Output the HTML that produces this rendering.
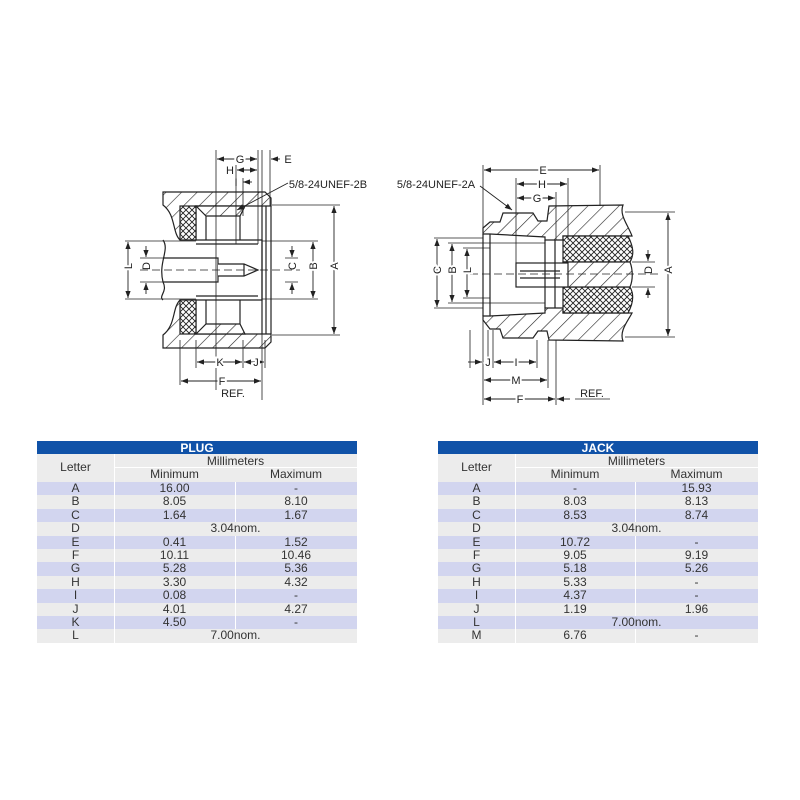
<!DOCTYPE html>
<html><head><meta charset="utf-8"><style>
body{margin:0;background:#fff;width:800px;height:800px;overflow:hidden;position:relative;font-family:"Liberation Sans",Arial,sans-serif}
.c{position:absolute;text-align:center;font-size:12px;color:#333;line-height:13.4px}
</style></head><body>
<svg width="800" height="800" style="position:absolute;left:0;top:0" font-family="Liberation Sans, Arial, sans-serif" font-size="11">
<defs>
<pattern id="h" patternUnits="userSpaceOnUse" width="11" height="11" patternTransform="rotate(45)"><rect width="11" height="11" fill="#fff"/><line x1="0" y1="0" x2="0" y2="11" stroke="#222" stroke-width="1.2"/></pattern>
<pattern id="x" patternUnits="userSpaceOnUse" width="6" height="6"><rect width="6" height="6" fill="#fff"/><path d="M0,0L6,6M6,0L0,6" stroke="#222" stroke-width="0.9"/></pattern>
<marker id="a" markerWidth="8" markerHeight="6" refX="8" refY="3" orient="auto-start-reverse"><path d="M0,0L8,3L0,6z" fill="#222"/></marker>
</defs>
<g stroke="#222" stroke-width="1.2" fill="none">
<path d="M163,192 L265,192 L271,198 L271,206 L196,206 L196,240 L180,240 C172,232 176,215 163,205 Z" fill="url(#h)"/>
<path d="M163,348 L265,348 L271,342 L271,334 L196,334 L196,300 L180,300 C172,308 176,325 163,335 Z" fill="url(#h)"/>
<rect x="180" y="206" width="16" height="34" fill="url(#x)"/>
<rect x="180" y="300" width="16" height="34" fill="url(#x)"/>
<path d="M196,206 L245,206 L240,216 L206,216 L200,210 Z" fill="url(#h)"/>
<path d="M196,334 L245,334 L240,324 L206,324 L200,330 Z" fill="url(#h)"/>
<path d="M206,216 L206,240 M240,216 L240,240 M206,324 L206,300 M240,324 L240,300"/>
<path d="M196,240 L262,240 L262,300 L196,300 M196,244 L258,244 M196,296 L258,296"/>
<path d="M262,206 L262,334 M266,206 L266,334 M271,206 L271,334"/>
<path d="M163,258 L218,258 L218,282 L163,282" fill="#fff"/>
<path d="M163,240 C170,250 158,262 163,282 C168,292 158,296 163,300"/>
<path d="M218,264 L244,264 L258,270 L244,276 L218,276" fill="#fff"/>
<path d="M244,264 L244,276"/>
<line x1="140" y1="270" x2="300" y2="270" stroke-dasharray="8,4" stroke-width="0.8"/>
<g stroke-width="0.8">
<path d="M272,205 L340,205 M272,335 L340,335 M262,241 L318,241 M262,299 L318,299 M285,258 L298,258 M285,282 L298,282"/>
<path d="M125,241 L196,241 M125,299 L196,299 M140,258 L163,258 M140,282 L163,282"/>
<path d="M216,150 L216,390 M258,150 L258,244 M262,150 L262,400 M270,150 L270,206 M236,165 L236,244 M243,178 L243,216 M180,340 L180,385 M196,340 L196,368 M243,340 L243,368 M265,340 L265,368"/>
</g>
<g stroke-width="0.9" marker-start="url(#a)" marker-end="url(#a)">
<line x1="334" y1="206" x2="334" y2="334"/>
<line x1="313" y1="242" x2="313" y2="298"/>
<line x1="128" y1="242" x2="128" y2="298"/>
<line x1="217" y1="159" x2="257" y2="159"/>
<line x1="237" y1="170" x2="257" y2="170"/>
<line x1="197" y1="362" x2="242" y2="362"/>
<line x1="244" y1="362" x2="264" y2="362"/>
<line x1="181" y1="381" x2="261" y2="381"/>
</g>
<g stroke-width="0.9" marker-end="url(#a)">
<line x1="292" y1="246" x2="292" y2="257"/><line x1="292" y1="294" x2="292" y2="283"/>
<line x1="146" y1="246" x2="146" y2="257"/><line x1="146" y1="294" x2="146" y2="283"/>
<line x1="280" y1="159" x2="271" y2="159"/>
<line x1="252" y1="182" x2="243" y2="182"/>
<line x1="288" y1="183" x2="237" y2="210"/>
</g>
<path d="M483,228 L490,222 L500,222 L503,213 L533,213 L538,221 L547,221 L549,206 L623,205 C619,215 628,225 632,236 L563,236 L563,240 L545,240 L545,237 L490,234 L483,234 Z" fill="url(#h)"/>
<path d="M483,320 L490,329 L500,329 L503,338 L533,338 L538,331 L547,331 L549,340 L623,341 C619,331 628,321 632,313 L563,313 L563,308 L545,308 L545,313 L490,316 L483,316 Z" fill="url(#h)"/>
<path d="M563,236 L628,236 C634,248 634,255 630,262 L563,262 Z" fill="url(#x)"/>
<path d="M563,313 L628,313 C634,302 634,294 630,287 L563,287 Z" fill="url(#x)"/>
<path d="M563,262 L630,262 C633,270 633,280 630,287 L563,287 Z" fill="url(#h)"/>
<rect x="516" y="263" width="52" height="24" fill="#fff"/>
<path d="M520,271 L560,271 M520,278 L560,278 M483,234 L483,316 M490,234 L490,316 M545,240 L545,308 M555,240 L555,308"/>
<line x1="470" y1="274" x2="660" y2="274" stroke-dasharray="8,4" stroke-width="0.8"/>
<g stroke-width="0.8">
<path d="M434,238 L483,238 M434,308 L483,308 M448,243 L545,243 M448,303 L545,303 M463,248 L490,248 M463,298 L490,298"/>
<path d="M625,212 L675,212 M625,337 L675,337 M632,262 L655,262 M632,287 L655,287"/>
<path d="M483,165 L483,405 M600,165 L600,206 M516,178 L516,263 M568,178 L568,240 M556,192 L556,240 M556,340 L556,405 M548,340 L548,388 M537,340 L537,368 M493,330 L493,368 M470,330 L470,368 M488,330 L488,368"/>
</g>
<g stroke-width="0.9" marker-start="url(#a)" marker-end="url(#a)">
<line x1="668" y1="213" x2="668" y2="336"/>
<line x1="437" y1="239" x2="437" y2="307"/>
<line x1="452" y1="244" x2="452" y2="302"/>
<line x1="467" y1="249" x2="467" y2="297"/>
<line x1="484" y1="170" x2="599" y2="170"/>
<line x1="517" y1="184" x2="567" y2="184"/>
<line x1="517" y1="198" x2="555" y2="198"/>
<line x1="494" y1="362" x2="536" y2="362"/>
<line x1="484" y1="380" x2="547" y2="380"/>
<line x1="484" y1="399" x2="555" y2="399"/>
</g>
<g stroke-width="0.9" marker-end="url(#a)">
<line x1="648" y1="250" x2="648" y2="261"/><line x1="648" y1="298" x2="648" y2="288"/>
<line x1="468" y1="362" x2="482" y2="362"/>
<line x1="570" y1="399" x2="557" y2="399"/>
<line x1="480" y1="186" x2="512" y2="210"/>
</g>
<line x1="575" y1="399" x2="610" y2="399" stroke-width="0.8"/>
</g>
<g fill="#222" text-anchor="middle">
<text x="240" y="163" stroke="#fff" stroke-width="4" paint-order="stroke">G</text>
<text x="288" y="163">E</text>
<text x="230" y="174">H</text>
<text x="236" y="186">I</text>
<text x="328" y="188">5/8-24UNEF-2B</text>
<text x="220" y="366" stroke="#fff" stroke-width="4" paint-order="stroke">K</text>
<text x="256" y="366" stroke="#fff" stroke-width="4" paint-order="stroke">J</text>
<text x="222" y="385" stroke="#fff" stroke-width="4" paint-order="stroke">F</text>
<text x="233" y="397">REF.</text>
<text x="338" y="274" transform="rotate(-90 334 270)" stroke="#fff" stroke-width="4" paint-order="stroke">A</text>
<text x="317" y="274" transform="rotate(-90 313 270)" stroke="#fff" stroke-width="4" paint-order="stroke">B</text>
<text x="296" y="274" transform="rotate(-90 292 270)">C</text>
<text x="150" y="274" transform="rotate(-90 146 270)">D</text>
<text x="132" y="274" transform="rotate(-90 128 270)" stroke="#fff" stroke-width="4" paint-order="stroke">L</text>
<text x="543" y="174" stroke="#fff" stroke-width="4" paint-order="stroke">E</text>
<text x="542" y="188" stroke="#fff" stroke-width="4" paint-order="stroke">H</text>
<text x="537" y="202" stroke="#fff" stroke-width="4" paint-order="stroke">G</text>
<text x="436" y="188">5/8-24UNEF-2A</text>
<text x="488" y="366" stroke="#fff" stroke-width="4" paint-order="stroke">J</text>
<text x="516" y="366" stroke="#fff" stroke-width="4" paint-order="stroke">I</text>
<text x="516" y="384" stroke="#fff" stroke-width="4" paint-order="stroke">M</text>
<text x="520" y="403" stroke="#fff" stroke-width="4" paint-order="stroke">F</text>
<text x="592" y="397">REF.</text>
<text x="672" y="278" transform="rotate(-90 668 274)" stroke="#fff" stroke-width="4" paint-order="stroke">A</text>
<text x="652" y="278" transform="rotate(-90 648 274)">D</text>
<text x="441" y="278" transform="rotate(-90 437 274)" stroke="#fff" stroke-width="4" paint-order="stroke">C</text>
<text x="456" y="278" transform="rotate(-90 452 274)" stroke="#fff" stroke-width="4" paint-order="stroke">B</text>
<text x="471" y="278" transform="rotate(-90 467 274)" stroke="#fff" stroke-width="4" paint-order="stroke">L</text>
</g>
</svg>
<div id="plug"></div><div id="jack"></div>
<script>
function tbl(x0,title,rows,split,letterW){
 var W=320,h='';
 h+='<div style="position:absolute;left:'+x0+'px;top:441px;width:'+W+'px;height:13px;background:#1052a8;color:#fff;font-weight:bold;font-size:12px;text-align:center;line-height:14px">'+title+'</div>';
 h+='<div style="position:absolute;left:'+x0+'px;top:454px;width:'+W+'px;height:28px;background:#ececec"></div>';
 h+='<div style="position:absolute;left:'+(x0+letterW)+'px;top:454px;width:1px;height:28px;background:#fff"></div>';
 h+='<div style="position:absolute;left:'+(x0+letterW)+'px;top:467px;width:'+(W-letterW)+'px;height:1px;background:#fff"></div>';
 h+='<div class="c" style="left:'+x0+'px;top:461px;width:'+letterW+'px">Letter</div>';
 h+='<div class="c" style="left:'+(x0+letterW)+'px;top:455px;width:'+(W-letterW)+'px">Millimeters</div>';
 h+='<div class="c" style="left:'+(x0+letterW)+'px;top:468px;width:'+(split-letterW)+'px">Minimum</div>';
 h+='<div class="c" style="left:'+(x0+split)+'px;top:468px;width:'+(W-split)+'px">Maximum</div>';
 rows.forEach(function(r,i){
  var y=482+i*13.4;
  h+='<div style="position:absolute;left:'+x0+'px;top:'+y+'px;width:'+W+'px;height:13.4px;background:'+(i%2?'#ececec':'#d2d5ef')+'"></div>';
  h+='<div style="position:absolute;left:'+(x0+letterW)+'px;top:'+y+'px;width:1px;height:13.4px;background:#fff"></div>';
  h+='<div class="c" style="left:'+x0+'px;top:'+y+'px;width:'+letterW+'px">'+r[0]+'</div>';
  if(r.length==2){h+='<div class="c" style="left:'+(x0+letterW)+'px;top:'+y+'px;width:'+(W-letterW)+'px">'+r[1]+'</div>';}
  else{
  h+='<div style="position:absolute;left:'+(x0+split)+'px;top:'+y+'px;width:1px;height:13.4px;background:#fff"></div>';
  h+='<div class="c" style="left:'+(x0+letterW)+'px;top:'+y+'px;width:'+(split-letterW)+'px">'+r[1]+'</div>';
  h+='<div class="c" style="left:'+(x0+split)+'px;top:'+y+'px;width:'+(W-split)+'px">'+r[2]+'</div>';}
 });
 return h;
}
document.getElementById('plug').innerHTML=tbl(37,'PLUG',[['A','16.00','-'],['B','8.05','8.10'],['C','1.64','1.67'],['D','3.04nom.'],['E','0.41','1.52'],['F','10.11','10.46'],['G','5.28','5.36'],['H','3.30','4.32'],['I','0.08','-'],['J','4.01','4.27'],['K','4.50','-'],['L','7.00nom.']],198,77);
document.getElementById('jack').innerHTML=tbl(438,'JACK',[['A','-','15.93'],['B','8.03','8.13'],['C','8.53','8.74'],['D','3.04nom.'],['E','10.72','-'],['F','9.05','9.19'],['G','5.18','5.26'],['H','5.33','-'],['I','4.37','-'],['J','1.19','1.96'],['L','7.00nom.'],['M','6.76','-']],197,77);
</script>
</body></html>
